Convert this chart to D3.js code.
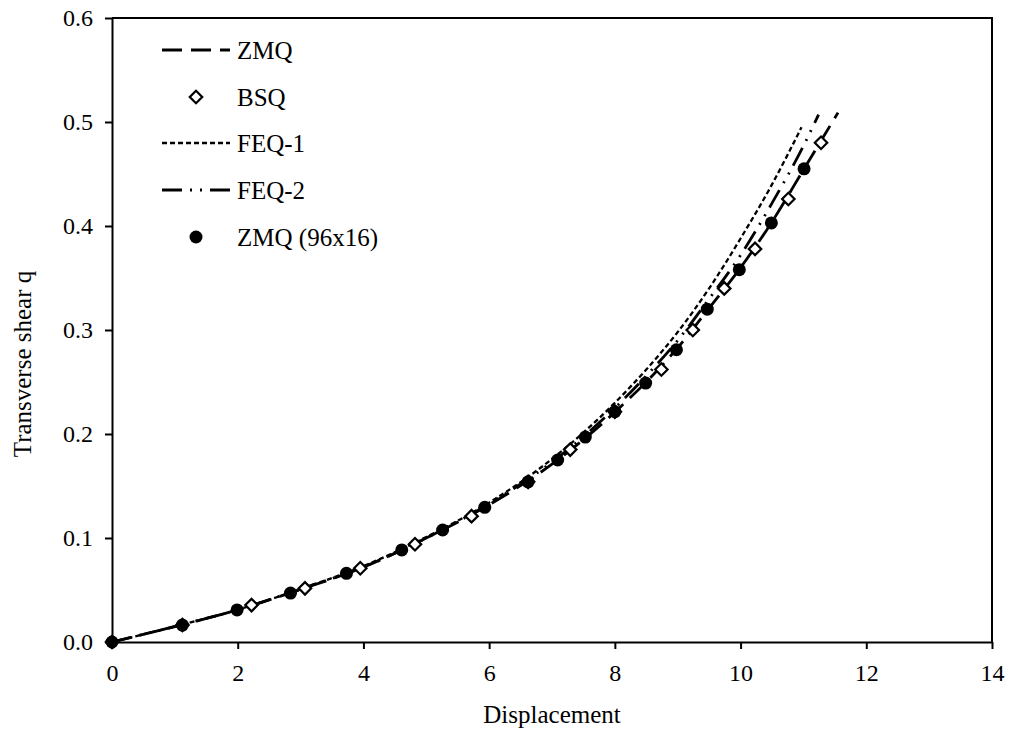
<!DOCTYPE html>
<html>
<head>
<meta charset="utf-8">
<script src="https://cdn.jsdelivr.net/npm/d3@7"></script>
<style>
  html, body { margin: 0; padding: 0; background: #fff; }
  svg text { font-family: "Liberation Serif", "Times New Roman", serif; fill: #000; }
</style>
</head>
<body>
<svg id="chart" width="1011" height="733"></svg>
<script>
// Load–deflection data: transverse shear q against displacement
const xTicks = [0, 2, 4, 6, 8, 10, 12, 14];
const yTicks = [0.0, 0.1, 0.2, 0.3, 0.4, 0.5, 0.6];

// ZMQ (coarse mesh) curve
const zmqX = [0, 1, 2, 3, 4, 5, 6, 7, 8, 9, 9.5, 10, 10.5, 11, 11.55];
const zmqQ = [0, 0.0148, 0.031, 0.0505, 0.072, 0.1, 0.132, 0.171, 0.221, 0.283, 0.321, 0.36, 0.404, 0.454, 0.509];

// FEQ-1 curve
const feq1X = [0, 1, 2, 3, 4, 5, 6, 7, 8, 8.5, 9, 9.5, 10, 10.5, 10.97];
const feq1Q = [0, 0.015, 0.031, 0.051, 0.073, 0.101, 0.134, 0.176, 0.230, 0.262, 0.298, 0.340, 0.388, 0.440, 0.495];

// FEQ-2 curve
const feq2X = [0, 1, 2, 3, 4, 5, 6, 7, 8, 8.5, 9, 9.5, 10, 10.5, 11, 11.24];
const feq2Q = [0, 0.015, 0.031, 0.051, 0.072, 0.1, 0.133, 0.173, 0.225, 0.256, 0.290, 0.330, 0.372, 0.422, 0.477, 0.507];

// BSQ points
const bsqX = [0, 1.12, 2.22, 3.07, 3.95, 4.82, 5.72, 6.62, 7.29, 8.0, 8.74, 9.24, 9.74, 10.23, 10.76, 11.28];
const bsqQ = [0, 0.0163, 0.0355, 0.0516, 0.0709, 0.094, 0.121, 0.154, 0.185, 0.2215, 0.262, 0.300, 0.340, 0.378, 0.426, 0.480];

// ZMQ (96x16) points
const zmqFineX = [0, 1.12, 1.99, 2.84, 3.73, 4.61, 5.26, 5.93, 6.62, 7.09, 7.53, 8.0, 8.49, 8.98, 9.47, 9.98, 10.49, 11.01];
const zmqFineQ = [0, 0.0163, 0.0308, 0.047, 0.066, 0.0885, 0.1077, 0.1295, 0.154, 0.175, 0.197, 0.2215, 0.249, 0.281, 0.320, 0.358, 0.403, 0.455];

const legendLabels = ["ZMQ", "BSQ", "FEQ-1", "FEQ-2", "ZMQ (96x16)"];

const svg = d3.select("#chart");
const plotL = 112, plotR = 992, plotT = 18, plotB = 642;

const x = d3.scaleLinear().domain([0, 14]).range([plotL, plotR]);
const y = d3.scaleLinear().domain([0, 0.6]).range([plotB, plotT]);

const zip = (xs, ys) => xs.map((v, i) => [v, ys[i]]);

// frame: top and right edges
svg.append("path")
  .attr("d", `M${plotL},${plotT}H${plotR}V${plotB}`)
  .attr("fill", "none").attr("stroke", "#000").attr("stroke-width", 2);

// axes
const fs = 24;
const gx = svg.append("g").attr("transform", `translate(0,${plotB})`)
  .call(d3.axisBottom(x).tickValues(xTicks).tickFormat(d3.format("d"))
    .tickSize(7).tickSizeOuter(0).tickPadding(15));
const gy = svg.append("g").attr("transform", `translate(${plotL},0)`)
  .call(d3.axisLeft(y).tickValues(yTicks).tickFormat(d3.format(".1f"))
    .tickSize(7).tickSizeOuter(0).tickPadding(12));
[gx, gy].forEach(g => {
  g.select(".domain").attr("stroke-width", 2);
  g.selectAll(".tick line").attr("stroke-width", 2);
  g.selectAll(".tick text").attr("font-size", fs).attr("font-family", "Liberation Serif");
});

// axis titles
svg.append("text").attr("x", (plotL + plotR) / 2).attr("y", 723)
  .attr("text-anchor", "middle").attr("font-size", 25).text("Displacement");
svg.append("text").attr("transform", `translate(31,364) rotate(-90)`)
  .attr("text-anchor", "middle").attr("font-size", 25).text("Transverse shear q");

// curves
const line = d3.line().x(d => x(d[0])).y(d => y(d[1])).curve(d3.curveMonotoneX);
const styles = {
  zmq:  { dash: "20,9", width: 2.8 },
  feq1: { dash: "5,3", width: 2.3 },
  feq2: { dash: "20,8,2,8,2,8", width: 2.8 }
};
const curves = [
  { data: zip(feq1X, feq1Q), s: styles.feq1 },
  { data: zip(feq2X, feq2Q), s: styles.feq2 },
  { data: zip(zmqX, zmqQ), s: styles.zmq }
];
curves.forEach(c => {
  svg.append("path").datum(c.data).attr("d", line)
    .attr("fill", "none").attr("stroke", "#000")
    .attr("stroke-width", c.s.width).attr("stroke-dasharray", c.s.dash);
});

// markers
const diamond = d3.symbol().type(d3.symbolSquare).size(78);
svg.append("g").selectAll("path").data(zip(bsqX, bsqQ)).join("path")
  .attr("d", diamond)
  .attr("transform", d => `translate(${x(d[0])},${y(d[1])}) rotate(45)`)
  .attr("fill", "#fff").attr("stroke", "#000").attr("stroke-width", 2.2);
svg.append("g").selectAll("circle").data(zip(zmqFineX, zmqFineQ)).join("circle")
  .attr("cx", d => x(d[0])).attr("cy", d => y(d[1])).attr("r", 6.5).attr("fill", "#000");

// legend
const legY = [50, 97, 143, 190, 237];
const lx1 = 162, lx2 = 230, lmid = 196, ltx = 237;
const lg = svg.append("g");
lg.append("line").attr("x1", lx1).attr("x2", lx2).attr("y1", legY[0]).attr("y2", legY[0])
  .attr("stroke", "#000").attr("stroke-width", styles.zmq.width).attr("stroke-dasharray", styles.zmq.dash);
lg.append("path").attr("d", diamond)
  .attr("transform", `translate(${lmid},${legY[1]}) rotate(45)`)
  .attr("fill", "#fff").attr("stroke", "#000").attr("stroke-width", 2.2);
lg.append("line").attr("x1", lx1).attr("x2", lx2).attr("y1", legY[2]).attr("y2", legY[2])
  .attr("stroke", "#000").attr("stroke-width", styles.feq1.width).attr("stroke-dasharray", styles.feq1.dash);
lg.append("line").attr("x1", lx1).attr("x2", lx2).attr("y1", legY[3]).attr("y2", legY[3])
  .attr("stroke", "#000").attr("stroke-width", styles.feq2.width).attr("stroke-dasharray", styles.feq2.dash);
lg.append("circle").attr("cx", lmid).attr("cy", legY[4]).attr("r", 6.5).attr("fill", "#000");
legendLabels.forEach((t, i) => {
  lg.append("text").attr("x", ltx).attr("y", legY[i]).attr("dy", "0.34em")
    .attr("font-size", 25).text(t);
});
</script>
</body>
</html>
